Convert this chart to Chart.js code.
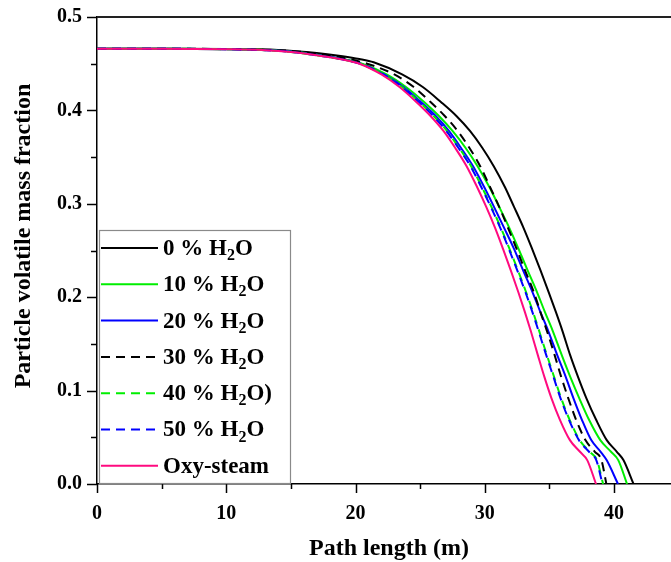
<!DOCTYPE html>
<html><head><meta charset="utf-8">
<script src="https://cdn.jsdelivr.net/npm/chart.js@4.4.0/dist/chart.umd.min.js"></script>
<style>html,body{margin:0;padding:0;background:#fff;}#wrap{width:671px;height:562px;position:relative;}</style>
</head><body><div id="wrap"><canvas id="c" width="671" height="562"></canvas></div>
<script>
// ---------- data ----------
const seriesNames = ['0 % H₂O', '10 % H₂O', '20 % H₂O', '30 % H₂O', '40 % H₂O)', '50 % H₂O', 'Oxy-steam'];
const xTickLabels = ['0', '10', '20', '30', '40'];
const yTickLabels = ['0.0', '0.1', '0.2', '0.3', '0.4', '0.5'];

const x0 = [0, 5, 10, 14, 17, 19, 20.3, 21.4, 23.6, 25.2, 26.6, 27.8, 28.85, 29.8, 30.7, 31.55, 32.25, 33.0, 33.65, 34.3, 34.95, 35.5, 36.0, 36.6, 37.2, 37.85, 38.6, 39.43, 40.21, 40.72, 41.5];
const y0 = [0.466, 0.466, 0.4658, 0.4648, 0.4615, 0.458, 0.455, 0.4515, 0.4385, 0.425, 0.409, 0.394, 0.378, 0.360, 0.340, 0.318, 0.297, 0.274, 0.252, 0.229, 0.205, 0.184, 0.164, 0.138, 0.115, 0.092, 0.069, 0.047, 0.0345, 0.0256, 0];

const x10 = [0, 5, 10, 13, 15, 17, 19, 20.5, 22.4, 23.9, 25.3, 26.45, 27.5, 28.5, 29.45, 30.35, 31.1, 31.9, 32.6, 33.3, 34.05, 34.65, 35.25, 35.95, 36.6, 37.3, 38.05, 38.93, 39.76, 40.32, 41.0];
const y10 = [0.466, 0.466, 0.4656, 0.4647, 0.463, 0.4597, 0.455, 0.450, 0.4385, 0.425, 0.409, 0.394, 0.378, 0.360, 0.340, 0.318, 0.297, 0.274, 0.252, 0.229, 0.205, 0.184, 0.164, 0.138, 0.115, 0.092, 0.069, 0.047, 0.0345, 0.0256, 0];

const x20 = [0, 5, 10, 13, 15, 17, 19, 20.4, 22.2, 23.7, 25.05, 26.2, 27.22, 28.15, 29.1, 29.95, 30.7, 31.5, 32.25, 32.95, 33.7, 34.3, 34.9, 35.6, 36.25, 36.85, 37.5, 38.23, 38.96, 39.42, 40.3];
const y20 = [0.466, 0.466, 0.4656, 0.4646, 0.463, 0.4595, 0.455, 0.450, 0.4385, 0.425, 0.409, 0.394, 0.378, 0.360, 0.340, 0.318, 0.297, 0.274, 0.252, 0.229, 0.205, 0.184, 0.164, 0.138, 0.115, 0.092, 0.069, 0.047, 0.0345, 0.0256, 0];

const x30 = [0, 5, 10, 13, 15, 17, 19, 20.9, 23.0, 24.5, 25.8, 26.9, 27.9, 28.8, 29.65, 30.4, 31.1, 31.8, 32.45, 33.1, 33.8, 34.3, 34.8, 35.4, 35.9, 36.45, 37.05, 37.78, 38.51, 39.02, 39.4];
const y30 = [0.466, 0.466, 0.4657, 0.4648, 0.4638, 0.4605, 0.4565, 0.450, 0.4385, 0.425, 0.409, 0.394, 0.378, 0.360, 0.340, 0.318, 0.297, 0.274, 0.252, 0.229, 0.205, 0.184, 0.164, 0.138, 0.115, 0.092, 0.069, 0.047, 0.0345, 0.0256, 0];

const x40 = [0, 5, 10, 13, 15, 17, 19, 20.4, 22.15, 23.6, 24.95, 26.05, 27.07, 28.0, 28.95, 29.77, 30.5, 31.25, 31.9, 32.55, 33.2, 33.73, 34.2, 34.8, 35.35, 35.9, 36.55, 37.33, 38.11, 38.67, 39.15];
const y40 = [0.466, 0.466, 0.4655, 0.4645, 0.4626, 0.459, 0.4545, 0.450, 0.4385, 0.425, 0.409, 0.394, 0.378, 0.360, 0.340, 0.318, 0.297, 0.274, 0.252, 0.229, 0.205, 0.184, 0.164, 0.138, 0.115, 0.092, 0.069, 0.047, 0.0345, 0.0256, 0];

const x50 = [0, 5, 10, 13, 15, 17, 19, 20.35, 22.1, 23.55, 24.9, 26.0, 27.02, 27.95, 28.9, 29.72, 30.45, 31.2, 31.85, 32.5, 33.15, 33.68, 34.15, 34.75, 35.3, 35.85, 36.5, 37.28, 38.06, 38.62, 39.1];
const y50 = [0.466, 0.466, 0.4655, 0.4645, 0.4626, 0.459, 0.4545, 0.450, 0.4385, 0.425, 0.409, 0.394, 0.378, 0.360, 0.340, 0.318, 0.297, 0.274, 0.252, 0.229, 0.205, 0.184, 0.164, 0.138, 0.115, 0.092, 0.069, 0.047, 0.0345, 0.0256, 0];

const xOxy = [0, 5, 10, 13, 15, 17, 19, 20.3, 22.0, 23.4, 24.7, 25.8, 26.8, 27.7, 28.6, 29.4, 30.1, 30.8, 31.4, 32.0, 32.6, 33.1, 33.55, 34.1, 34.6, 35.15, 35.8, 36.58, 37.36, 37.92, 38.6];
const yOxy = [0.466, 0.466, 0.4655, 0.4645, 0.4625, 0.459, 0.4545, 0.450, 0.4385, 0.425, 0.409, 0.394, 0.378, 0.360, 0.340, 0.318, 0.297, 0.274, 0.252, 0.229, 0.205, 0.184, 0.164, 0.138, 0.115, 0.092, 0.069, 0.047, 0.0345, 0.0256, 0];

// ---------- styling ----------
const FONT = "'Liberation Serif','Times New Roman',Times,serif";
const colors = ['#000000', '#00ee00', '#0000ff', '#000000', '#00ee00', '#0000ff', '#ff0a7f'];
const dashes = [[], [], [], [9, 6], [9, 6], [9, 6], []];
const dashOffsets = [0, 0, 0, 0, 5, 0, 0];
const orders = [6, 5, 4, 3, 2, 1, 0];
const xs = [x0, x10, x20, x30, x40, x50, xOxy];
const ys = [y0, y10, y20, y30, y40, y50, yOxy];

const datasets = seriesNames.map((name, i) => ({
  label: name,
  data: xs[i].map((x, j) => ({ x: x, y: ys[i][j] })),
  borderColor: colors[i],
  backgroundColor: colors[i],
  borderWidth: 2,
  borderDash: dashes[i],
  borderDashOffset: dashOffsets[i],
  pointRadius: 0,
  fill: false,
  cubicInterpolationMode: 'monotone',
  order: orders[i]
}));

function isMajor(v, step) { return Math.abs(v / step - Math.round(v / step)) < 1e-6; }

const decor = {
  id: 'decor',
  afterDraw(chart) {
    const ctx = chart.ctx, a = chart.chartArea, sx = chart.scales.x, sy = chart.scales.y;
    ctx.save();
    // top frame line
    ctx.strokeStyle = '#222'; ctx.lineWidth = 2;
    ctx.beginPath(); ctx.moveTo(a.left, a.top); ctx.lineTo(a.right, a.top); ctx.stroke();
    // tick marks
    ctx.strokeStyle = '#000'; ctx.lineWidth = 1.5;
    sx.ticks.forEach(t => {
      const p = Math.round(sx.getPixelForValue(t.value)) + 0.5;
      const L = isMajor(t.value, 10) ? 9 : 5;
      ctx.beginPath(); ctx.moveTo(p, a.bottom); ctx.lineTo(p, a.bottom + L); ctx.stroke();
    });
    sy.ticks.forEach(t => {
      const p = Math.round(sy.getPixelForValue(t.value)) + 0.5;
      const L = isMajor(t.value, 0.1) ? 10 : 6;
      ctx.beginPath(); ctx.moveTo(a.left, p); ctx.lineTo(a.left - L, p); ctx.stroke();
    });
    // axis titles
    ctx.fillStyle = '#000';
    ctx.font = 'bold 24px ' + FONT;
    ctx.textAlign = 'center'; ctx.textBaseline = 'middle';
    ctx.fillText('Path length (m)', 389, 549);
    ctx.save();
    ctx.translate(24, 236); ctx.rotate(-Math.PI / 2);
    ctx.fillText('Particle volatile mass fraction', 0, 0);
    ctx.restore();
    // legend box
    const bx = 99.5, by = 230.5, bw = 191, bh = 253;
    ctx.fillStyle = '#fff'; ctx.fillRect(bx, by, bw, bh);
    ctx.strokeStyle = '#8a8a8a'; ctx.lineWidth = 1.2; ctx.strokeRect(bx, by, bw, bh);
    chart.data.datasets.forEach((ds, i) => {
      const cy = 248 + i * 36.3;
      ctx.strokeStyle = ds.borderColor; ctx.lineWidth = 2;
      ctx.setLineDash(ds.borderDash || []);
      ctx.lineDashOffset = 0;
      ctx.beginPath(); ctx.moveTo(101, cy); ctx.lineTo(158, cy); ctx.stroke();
      ctx.setLineDash([]);
      // text with subscript
      ctx.fillStyle = '#000'; ctx.textAlign = 'left'; ctx.textBaseline = 'middle';
      const parts = ds.label.split('₂');
      let tx = 163;
      ctx.font = 'bold 23px ' + FONT;
      ctx.fillText(parts[0], tx, cy + 1);
      tx += ctx.measureText(parts[0]).width;
      if (parts.length > 1) {
        ctx.font = 'bold 16px ' + FONT;
        ctx.fillText('2', tx, cy + 8);
        tx += ctx.measureText('2').width;
        ctx.font = 'bold 23px ' + FONT;
        ctx.fillText(parts[1], tx, cy + 1);
      }
    });
    ctx.restore();
  }
};

new Chart(document.getElementById('c'), {
  type: 'line',
  data: { datasets: datasets },
  options: {
    responsive: false,
    animation: false,
    devicePixelRatio: 1,
    events: [],
    layout: { padding: { top: 15, right: 0, left: 0, bottom: 0 } },
    plugins: { legend: { display: false }, tooltip: { enabled: false }, title: { display: false } },
    scales: {
      x: {
        type: 'linear', min: 0, max: 44.4,
        afterFit: s => { s.height = 78; },
        border: { display: true, color: '#000', width: 1.5 },
        grid: { display: true, drawOnChartArea: false, drawTicks: true, tickLength: 9, color: 'rgba(0,0,0,0)' },
        ticks: {
          stepSize: 5, includeBounds: false, autoSkip: false, maxRotation: 0, padding: 9,
          color: '#000', font: { family: FONT, size: 20, weight: 'bold' },
          callback: v => { const i = xTickLabels.indexOf(String(v)); return i >= 0 ? xTickLabels[i] : ''; }
        }
      },
      y: {
        type: 'linear', min: 0, max: 0.5,
        afterFit: s => { s.width = 97; },
        border: { display: true, color: '#000', width: 1.5 },
        grid: { display: true, drawOnChartArea: false, drawTicks: true, tickLength: 10, color: 'rgba(0,0,0,0)' },
        ticks: {
          stepSize: 0.05, includeBounds: false, autoSkip: false, padding: 5,
          color: '#000', font: { family: FONT, size: 20, weight: 'bold' },
          callback: v => isMajor(v, 0.1) ? yTickLabels[Math.round(v * 10)] : ''
        }
      }
    }
  },
  plugins: [decor]
});
</script>
</body></html>
